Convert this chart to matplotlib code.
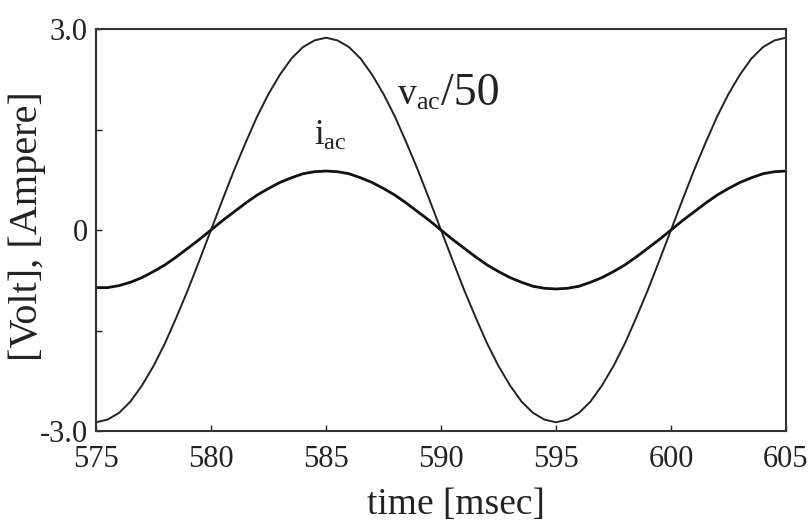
import matplotlib
matplotlib.use("Agg")
import matplotlib.pyplot as plt

plt.rcParams['font.family'] = ['Liberation Serif', 'DejaVu Serif']
plt.rcParams['mathtext.fontset'] = 'custom'
plt.rcParams['mathtext.rm'] = 'Liberation Serif'
plt.rcParams['mathtext.it'] = 'Liberation Serif'

# time axis [msec], sampled every 0.5 ms
t_start, t_step, n_pts = 575.0, 0.5, 61
time_ms = [t_start + k * t_step for k in range(n_pts)]

# v_ac/50 [Volt]
v_ac50 = [
    -2.87, -2.83, -2.73, -2.56, -2.32, -2.03, -1.69, -1.30, -0.89, -0.45,
    0.00, 0.45, 0.89, 1.30, 1.69, 2.03, 2.32, 2.56, 2.73, 2.83,
    2.87, 2.83, 2.73, 2.56, 2.32, 2.03, 1.69, 1.30, 0.89, 0.45,
    0.00, -0.45, -0.89, -1.30, -1.69, -2.03, -2.32, -2.56, -2.73, -2.83,
    -2.87, -2.83, -2.73, -2.56, -2.32, -2.03, -1.69, -1.30, -0.89, -0.45,
    0.00, 0.45, 0.89, 1.30, 1.69, 2.03, 2.32, 2.56, 2.73, 2.83,
    2.87,
]

# i_ac [Ampere]
i_ac = [
    -0.86, -0.86, -0.83, -0.78, -0.71, -0.62, -0.52, -0.40, -0.27, -0.14,
    0.00, 0.14, 0.27, 0.40, 0.52, 0.62, 0.71, 0.78, 0.84, 0.87,
    0.88, 0.87, 0.84, 0.78, 0.71, 0.62, 0.52, 0.40, 0.27, 0.14,
    0.00, -0.14, -0.27, -0.40, -0.52, -0.62, -0.71, -0.78, -0.84, -0.87,
    -0.88, -0.87, -0.84, -0.78, -0.71, -0.62, -0.52, -0.40, -0.27, -0.14,
    0.00, 0.14, 0.27, 0.40, 0.52, 0.62, 0.71, 0.78, 0.84, 0.87,
    0.88,
]

x_ticks = [575, 580, 585, 590, 595, 600, 605]
y_ticks = [-3.0, -1.5, 0.0, 1.5, 3.0]
y_tick_labels = ['-3.0', '', '0', '', '3.0']

fig = plt.figure(figsize=(8.11, 5.29), dpi=100)
ax = fig.add_axes([96/811, 1-431/529, (786-96)/811, (431-29)/529])

ax.plot(time_ms, v_ac50, color='#222222', lw=1.4)
ax.plot(time_ms, i_ac, color='#111111', lw=2.0)

ax.set_xlim(575, 605)
ax.set_ylim(-3.0, 3.0)
ax.set_xticks(x_ticks)
ax.set_xticklabels([str(v) for v in x_ticks])
ax.set_yticks(y_ticks)
ax.set_yticklabels(y_tick_labels)
ax.tick_params(direction='in', length=4, width=1, labelsize=22, colors='#222222')
ax.tick_params(axis='x', pad=10)
ax.tick_params(axis='y', pad=6)
for s in ax.spines.values():
    s.set_linewidth(1.5)
    s.set_color('#333333')

fig.text(456/811, 1-505/529, 'time [msec]', fontsize=27, color='#222222',
         ha='center', va='center')
fig.text(27/811, 1-226/529, '[Volt], [Ampere]', fontsize=29, color='#222222',
         ha='center', va='center', rotation=90)

ax.text(588.1, 1.87, r'$\mathrm{v_{ac}}$', fontsize=27, color='#222222',
        ha='left', va='baseline')
ax.text(590.0, 1.87, '/50', fontsize=33, color='#222222',
        ha='left', va='baseline')
ax.text(584.5, 1.27, r'$\mathrm{i_{ac}}$', fontsize=25, color='#222222',
        ha='left', va='baseline')

fig.savefig('out.png', dpi=100)
